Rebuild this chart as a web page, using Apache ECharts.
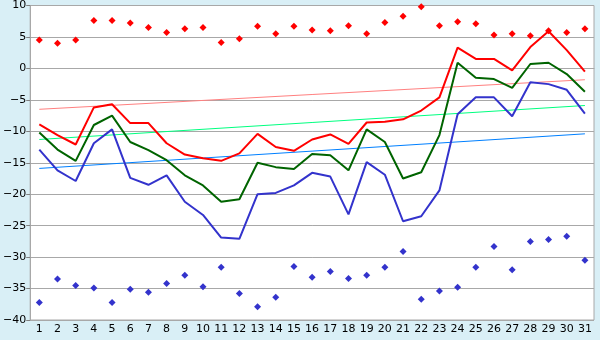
<!DOCTYPE html>
<html>
<head>
<meta charset="utf-8">
<script src="https://cdn.jsdelivr.net/npm/echarts@6/dist/echarts.min.js"></script>
<style>
  html, body { margin: 0; padding: 0; background: #D9EFF6; }
  #chart { width: 600px; height: 340px; }
</style>
</head>
<body>
<div id="chart"></div>
<script>
const days = ['1','2','3','4','5','6','7','8','9','10','11','12','13','14','15','16','17','18','19','20','21','22','23','24','25','26','27','28','29','30','31'];
const redLine = [-8.9,-10.6,-12.1,-6.2,-5.7,-8.7,-8.7,-11.9,-13.7,-14.3,-14.7,-13.5,-10.4,-12.5,-13.1,-11.3,-10.5,-12.0,-8.6,-8.5,-8.1,-6.7,-4.6,3.3,1.5,1.5,-0.3,3.4,5.9,2.9,-0.5];
const greenLine = [-10.2,-12.9,-14.7,-9.0,-7.5,-11.7,-13.0,-14.6,-17.0,-18.6,-21.2,-20.8,-15.0,-15.7,-16.0,-13.6,-13.8,-16.2,-9.7,-11.7,-17.5,-16.5,-10.6,0.9,-1.5,-1.7,-3.1,0.7,0.9,-0.9,-3.7];
const blueLine = [-12.9,-16.2,-17.9,-11.9,-9.7,-17.4,-18.5,-17.0,-21.2,-23.3,-26.9,-27.1,-20.0,-19.8,-18.6,-16.6,-17.2,-23.2,-14.9,-16.9,-24.3,-23.5,-19.4,-7.3,-4.6,-4.6,-7.6,-2.2,-2.5,-3.4,-7.2];
const redPoints = [4.5,4.0,4.5,7.6,7.6,7.2,6.5,5.7,6.3,6.5,4.1,4.7,6.7,5.5,6.7,6.1,6.0,6.8,5.5,7.3,8.3,9.8,6.8,7.4,7.1,5.3,5.5,5.2,6.0,5.7,6.3];
const bluePoints = [-37.2,-33.5,-34.5,-34.9,-37.2,-35.1,-35.6,-34.2,-32.9,-34.7,-31.6,-35.8,-37.9,-36.4,-31.5,-33.2,-32.3,-33.4,-32.9,-31.6,-29.1,-36.7,-35.4,-34.8,-31.6,-28.3,-32.0,-27.5,-27.2,-26.7,-30.5];
// trend lines: value at first and last day
const redTrend = [-6.5, -1.8];
const greenTrend = [-11.3, -5.9];
const blueTrend = [-15.9, -10.4];

function trendData(ends) {
  return days.map((d, i) => i === 0 ? ends[0] : (i === days.length - 1 ? ends[1] : null));
}
function lineSeries(data, color, width) {
  return { type: 'line', data: data, symbol: 'none', connectNulls: true, lineStyle: { color: color, width: width }, z: 3 };
}
function pointSeries(data, color) {
  return { type: 'line', data: data, symbol: 'diamond', symbolSize: 7, itemStyle: { color: color }, lineStyle: { width: 0, opacity: 0 }, z: 4 };
}

const chart = echarts.init(document.getElementById('chart'));
chart.setOption({
  animation: false,
  backgroundColor: '#D9EFF6',
  grid: { left: 26, right: 6, top: 5, bottom: 20, show: true, backgroundColor: '#FFFFFF', borderColor: '#A8A8A8', borderWidth: 1 },
  xAxis: {
    type: 'category',
    data: days,
    boundaryGap: true,
    axisLine: { lineStyle: { color: '#A8A8A8' } },
    axisTick: { alignWithLabel: true, length: 5, lineStyle: { color: '#808080' } },
    axisLabel: { color: '#000', fontFamily: 'DejaVu Sans', fontSize: 11, margin: 4, interval: 0 },
    splitLine: { show: false }
  },
  yAxis: {
    type: 'value',
    min: -40, max: 10, interval: 5,
    axisLine: { show: true, lineStyle: { color: '#A8A8A8' } },
    axisTick: { show: true, length: 4, lineStyle: { color: '#808080' } },
    axisLabel: { color: '#000', fontFamily: 'DejaVu Sans', fontSize: 11, margin: 4, formatter: v => String(v).replace('-', '\u2212') },
    splitLine: { lineStyle: { color: '#A8A8A8' } }
  },
  series: [
    lineSeries(trendData(redTrend), '#FF8080', 1),
    lineSeries(trendData(greenTrend), '#00FF80', 1),
    lineSeries(trendData(blueTrend), '#0080FF', 1),
    lineSeries(redLine, '#FF0000', 2),
    lineSeries(greenLine, '#006400', 2),
    lineSeries(blueLine, '#3333CC', 2),
    pointSeries(redPoints, '#FF0000'),
    pointSeries(bluePoints, '#3333CC')
  ]
});
</script>
</body>
</html>
